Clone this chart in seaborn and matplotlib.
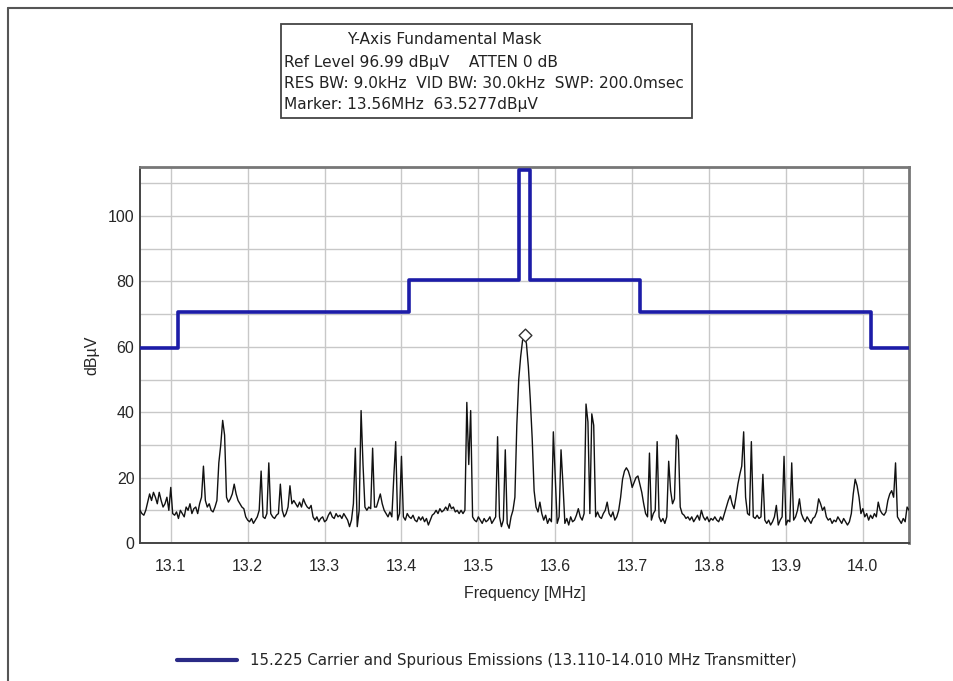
import numpy as np
import pandas as pd
import matplotlib
matplotlib.use("Agg")
import matplotlib.pyplot as plt
import seaborn as sns
from matplotlib.lines import Line2D
from matplotlib.patches import Rectangle
from matplotlib.ticker import MultipleLocator

# ---------------- data ----------------
sweep_start_mhz = 13.06
sweep_step_mhz = 0.0025

trace_level = [
    10, 9, 8.5, 10, 12.5, 15, 13, 15.5, 14, 12, 15.5, 13, 11, 12, 14, 10, 17, 9, 8.5, 9.5,
    7.5, 10, 9, 8, 11, 10, 12, 9, 10.5, 11, 9, 12, 14, 23.5, 13, 11, 12, 10, 9.5, 11,
    13, 24.5, 30, 37.5, 33, 14, 12.5, 13.5, 15, 18, 15, 13, 12, 11, 10.5, 8, 7, 6.5, 7.5, 6,
    7, 8, 10, 22, 8, 7.5, 9, 24.5, 9, 8, 7.5, 8.5, 9, 18, 10, 8, 9, 11, 17.5, 12,
    13, 12, 11, 12.5, 11, 13.5, 12, 11, 10.5, 11.5, 8, 7, 8, 6.5, 7.5, 8, 6.5, 7, 8.5, 9.5,
    8, 7.5, 9, 8, 8.5, 7.5, 9, 8, 7, 5, 7, 12, 29, 5, 10, 40.5, 24, 11, 10, 11,
    10.5, 29, 11, 11, 13, 15, 12, 10, 9, 8, 9.5, 8, 20, 31, 7, 9, 26.5, 8, 7, 9,
    8, 7.5, 8.5, 7, 6.5, 8, 7, 8, 6.5, 7.5, 5.5, 7, 8.5, 9, 10, 9, 10.5, 9.5, 10, 11,
    10, 12, 10.5, 11, 9.5, 10, 9, 10, 9, 10, 43, 24, 40.5, 8, 7, 6.5, 8, 7, 6, 7.5,
    6.5, 7, 8, 6, 7, 8, 32.5, 8, 5, 7, 28.5, 6, 4.5, 8, 10, 14, 36, 50, 57, 62,
    63.5, 61, 54, 44, 32, 16, 11, 9.5, 12.5, 9, 7, 8.5, 6, 7.5, 6.5, 34, 20, 6, 8, 28.5,
    18, 6, 7.5, 5.5, 8, 6.5, 7, 8.5, 10.5, 8, 7, 9, 42.5, 37, 9, 39.5, 36, 8, 9.5, 8,
    7.5, 9, 10, 12.5, 9, 8, 9.5, 7, 8, 10, 14, 19.5, 22, 23, 22, 20, 17, 18.5, 20, 20.5,
    18, 15.5, 12, 9, 8, 27.5, 7, 9, 10, 31, 8, 6.5, 7.5, 6, 8, 25, 16, 12, 13.5, 33,
    31.5, 11, 9, 8.5, 7.5, 8, 7, 8, 6.5, 7.5, 8.5, 7, 10, 8, 7, 8, 6.5, 7.5, 7, 8,
    7, 6.5, 8, 7, 9, 11, 13, 14.5, 12, 10.5, 14, 18, 21, 23.5, 34, 14, 9, 8.5, 31, 8,
    7.5, 8.5, 7.5, 8, 21, 7, 6, 7, 5.5, 6.5, 8, 11.5, 5.5, 7, 8, 26.5, 5.5, 7, 6.5, 24.5,
    7, 8, 10, 13.5, 9, 7.5, 6.5, 8, 7, 6, 7.5, 8, 9.5, 13.5, 12, 10, 11, 8, 7, 7.5,
    6, 7, 6.5, 8, 7, 6, 7.5, 6.5, 5.5, 6.5, 9, 15, 19.5, 17.5, 14, 9, 10.5, 8, 9, 7,
    8.5, 7.5, 9, 8, 12.5, 10, 9, 8.5, 9.5, 13, 15, 16, 14, 24.5, 8, 7, 6, 7.5, 6.5, 11,
    10,
]

mask_freq = [13.06, 13.110, 13.410, 13.553, 13.567, 13.710, 14.010, 14.06]
mask_level = [59.5, 70.5, 80.5, 114.0, 80.5, 70.5, 59.5, 59.5]

marker_freq = [13.56]
marker_level = [63.5277]

x_ticks = [13.1, 13.2, 13.3, 13.4, 13.5, 13.6, 13.7, 13.8, 13.9, 14.0]
x_tick_labels = ["13.1", "13.2", "13.3", "13.4", "13.5", "13.6", "13.7", "13.8", "13.9", "14.0"]
y_ticks = [0, 20, 40, 60, 80, 100]

header_title = "Y-Axis Fundamental Mask"
header_lines = [
    "Ref Level 96.99 dB\u00b5V    ATTEN 0 dB",
    "RES BW: 9.0kHz  VID BW: 30.0kHz  SWP: 200.0msec",
    "Marker: 13.56MHz  63.5277dB\u00b5V",
]
legend_label = "15.225 Carrier and Spurious Emissions (13.110-14.010 MHz Transmitter)"

# ---------------- figure ----------------
sns.set_style("white")
plt.rcParams["font.family"] = ["Liberation Sans", "DejaVu Sans"]

W, H = 954, 681
fig = plt.figure(figsize=(W / 100, H / 100), dpi=100)
ax = fig.add_axes([140 / W, 1 - 543 / H, (909 - 140) / W, (543 - 167) / H])

trace_df = pd.DataFrame({
    "freq": sweep_start_mhz + sweep_step_mhz * np.arange(len(trace_level)),
    "level": trace_level,
})
mask_df = pd.DataFrame({"freq": mask_freq, "level": mask_level})

sns.lineplot(data=trace_df, x="freq", y="level", ax=ax, color="#111111",
             linewidth=1.0, estimator=None, sort=False, zorder=3)
sns.lineplot(data=mask_df, x="freq", y="level", ax=ax, color="#1c1ca8",
             linewidth=2.6, estimator=None, sort=False, drawstyle="steps-post",
             zorder=4)
sns.scatterplot(x=marker_freq, y=marker_level, ax=ax, marker="D", s=42,
                facecolor="white", edgecolor="#333333", linewidth=1.0, zorder=5)

ax.set_xlim(13.06, 14.06)
ax.set_ylim(0, 115)
ax.set_xticks(x_ticks)
ax.set_xticklabels(x_tick_labels)
ax.set_yticks(y_ticks)
ax.xaxis.set_minor_locator(MultipleLocator(0.05))
ax.yaxis.set_minor_locator(MultipleLocator(10))

ax.grid(True, which="major", axis="both", color="#c8c8c8", linewidth=1.0, zorder=0)
ax.grid(True, which="minor", axis="y", color="#c8c8c8", linewidth=1.0, zorder=0)
ax.set_axisbelow(True)

ax.tick_params(axis="both", which="major", direction="inout", length=7, width=1.0,
               color="#333333", labelsize=11.5)
ax.tick_params(axis="x", which="major", pad=8)
ax.tick_params(axis="y", which="major", pad=0.5)
ax.tick_params(axis="both", which="minor", direction="inout", length=5, width=1.0,
               color="#333333")
for side, sp in ax.spines.items():
    sp.set_color("#444444")
    sp.set_linewidth(1.4)
    sp.set_visible(True)
for side in ("top", "right"):
    ax.spines[side].set_color("#777777")
    ax.spines[side].set_linewidth(2.0)

ax.set_xlabel("Frequency [MHz]", fontsize=11.5, labelpad=9)
ax.set_ylabel("dB\u00b5V", fontsize=11.5, labelpad=6)

# outer frame
fig.add_artist(Line2D([8 / W, 1.0], [1 - 8 / H, 1 - 8 / H], color="#555555", lw=1.5,
                      transform=fig.transFigure))
fig.add_artist(Line2D([8 / W, 8 / W], [0.0, 1 - 8 / H], color="#555555", lw=1.5,
                      transform=fig.transFigure))

# header box
fig.add_artist(Rectangle((281 / W, 1 - 118 / H), (692 - 281) / W, (118 - 24) / H,
                         transform=fig.transFigure, fill=False, edgecolor="#444444",
                         linewidth=1.3))
hdr_font = ["DejaVu Sans"]
fig.text(444 / W, 1 - 40 / H, header_title, ha="center", va="center", fontsize=11.1,
         color="#222222", family=hdr_font)
for i, line in enumerate(header_lines):
    fig.text(284 / W, 1 - (62 + 21.5 * i) / H, line, ha="left", va="center",
             fontsize=11.1, color="#222222", family=hdr_font)

# legend
handle = Line2D([], [], color="#2a2a86", linewidth=3)
fig.legend([handle], [legend_label], loc="center left",
           bbox_to_anchor=(163 / W, 1 - 661 / H), frameon=False,
           prop={"family": "DejaVu Sans", "size": 10.8},
           handlelength=4.0, handletextpad=0.9)

fig.savefig("out.png", dpi=100)
